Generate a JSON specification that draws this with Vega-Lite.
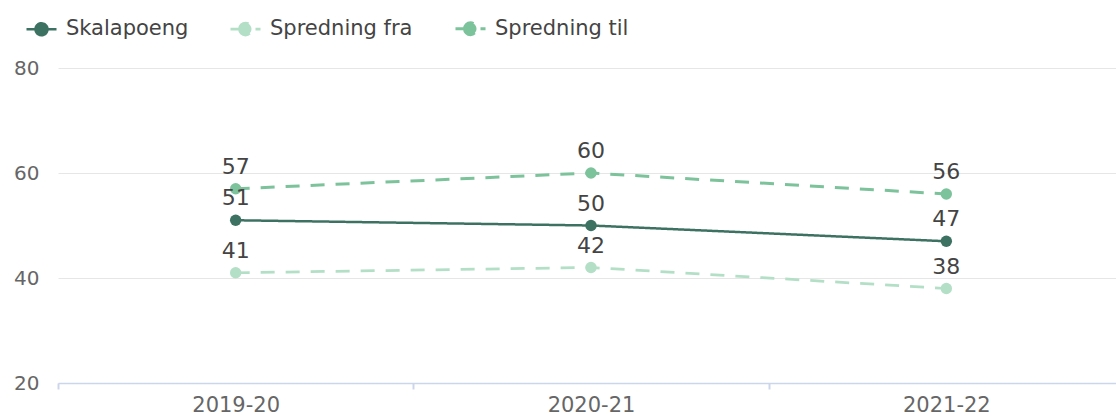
{
  "$schema": "https://vega.github.io/schema/vega-lite/v6.json",
  "autosize": {"type": "none"},
  "padding": {"left": 58, "top": 68, "right": 0, "bottom": 34},
  "width": 1066,
  "height": 315,
  "background": "white",
  "config": {
    "view": {"stroke": null},
    "font": "DejaVu Sans",
    "text": {"font": "DejaVu Sans"}
  },
  "data": {
    "values": [
      {"aar": "2019-20", "serie": "Skalapoeng", "verdi": 51},
      {"aar": "2020-21", "serie": "Skalapoeng", "verdi": 50},
      {"aar": "2021-22", "serie": "Skalapoeng", "verdi": 47},
      {"aar": "2019-20", "serie": "Spredning fra", "verdi": 41},
      {"aar": "2020-21", "serie": "Spredning fra", "verdi": 42},
      {"aar": "2021-22", "serie": "Spredning fra", "verdi": 38},
      {"aar": "2019-20", "serie": "Spredning til", "verdi": 57},
      {"aar": "2020-21", "serie": "Spredning til", "verdi": 60},
      {"aar": "2021-22", "serie": "Spredning til", "verdi": 56}
    ]
  },
  "encoding": {
    "x": {
      "field": "aar", "type": "nominal", "sort": null,
      "scale": {"type": "band", "paddingInner": 0, "paddingOuter": 0},
      "axis": {
        "title": null, "labelAngle": 0, "tickBand": "extent",
        "domainColor": "#ccd6eb", "tickColor": "#ccd6eb", "tickSize": 6, "tickWidth": 2, "domainWidth": 1.5,
        "labelFont": "DejaVu Sans", "labelFontSize": 21, "labelColor": "#666666", "labelPadding": 5,
        "grid": false
      }
    },
    "y": {
      "field": "verdi", "type": "quantitative",
      "scale": {"domain": [20, 80], "nice": false, "zero": false},
      "axis": {
        "title": null, "values": [20, 40, 60, 80], "domain": false, "ticks": false,
        "gridColor": "#e6e6e6", "gridWidth": 1,
        "labelFont": "DejaVu Sans", "labelFontSize": 20, "labelColor": "#666666", "labelPadding": 19
      }
    },
    "color": {
      "field": "serie", "type": "nominal",
      "scale": {"domain": ["Skalapoeng", "Spredning fra", "Spredning til"], "range": ["#3d7262", "#b3dfc6", "#7cc29b"]},
      "legend": {
        "title": null, "orient": "none", "direction": "horizontal", "legendX": -33, "legendY": -56,
        "labelFont": "DejaVu Sans", "labelFontSize": 21, "labelColor": "#444444",
        "symbolType": "M-1,0H1M-0.4,0A0.4,0.4,0,1,0,0.4,0A0.4,0.4,0,1,0,-0.4,0Z",
        "symbolSize": 900, "symbolStrokeWidth": 3, "columnPadding": 36, "labelOffset": 8
      }
    },
    "strokeDash": {
      "field": "serie", "type": "nominal",
      "scale": {"domain": ["Skalapoeng", "Spredning fra", "Spredning til"], "range": [[1, 0], [14, 11], [14, 11]]},
      "legend": null
    },
    "strokeWidth": {
      "field": "serie", "type": "nominal",
      "scale": {"domain": ["Skalapoeng", "Spredning fra", "Spredning til"], "range": [2.5, 3, 3]},
      "legend": null
    }
  },
  "layer": [
    {"mark": {"type": "line"}},
    {"mark": {"type": "point", "filled": true, "opacity": 1, "size": 130}, "encoding": {"strokeWidth": {"value": 0}}},
    {
      "mark": {"type": "text", "dy": -22, "fontSize": 22, "font": "DejaVu Sans"},
      "encoding": {"text": {"field": "verdi", "type": "quantitative"}, "color": {"value": "#444444"}, "strokeDash": {"value": [1,0]}, "strokeWidth": {"value": 0}}
    }
  ]
}
